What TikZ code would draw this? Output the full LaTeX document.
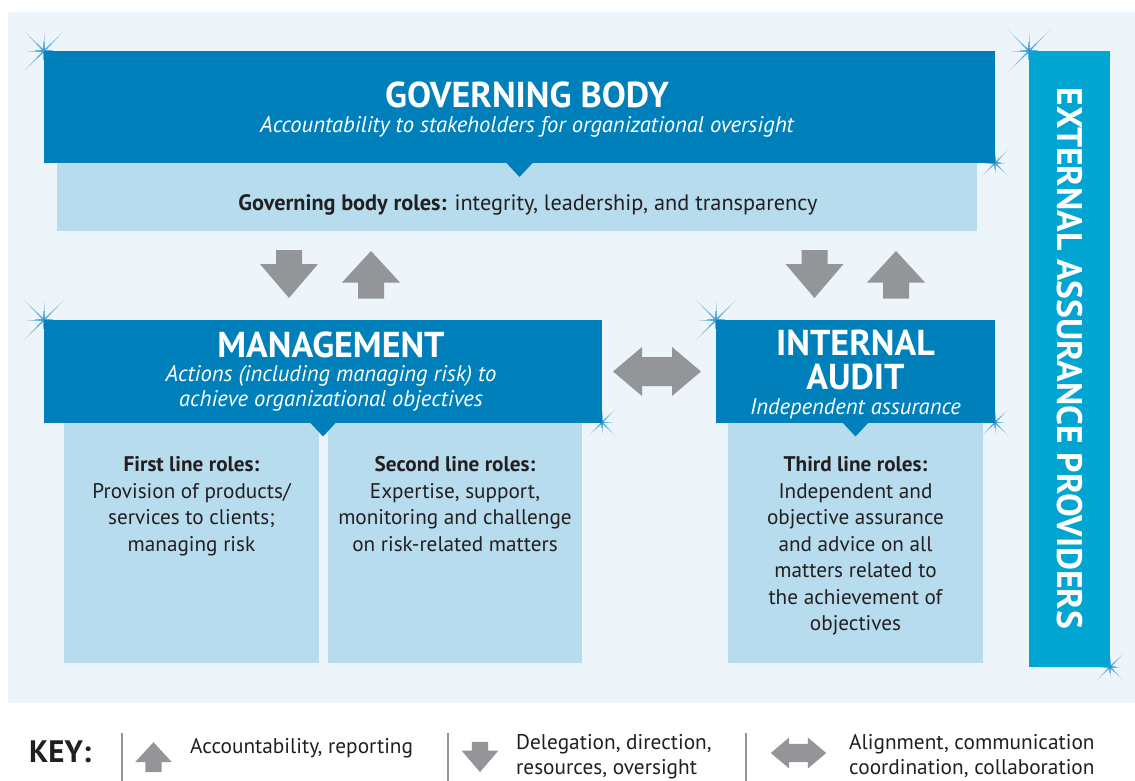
\documentclass[tikz,border=0pt]{standalone}
\usepackage{fontspec}
\setmainfont{PT Sans}
\definecolor{govblue}{HTML}{0080BA}
\definecolor{extblue}{HTML}{00A6D1}
\definecolor{lightbox}{HTML}{B7DCED}
\definecolor{bgblue}{HTML}{EDF5FB}
\definecolor{arrowgray}{HTML}{939598}
\definecolor{textdark}{HTML}{231F20}
\definecolor{sparkblue}{HTML}{3A9AD0}
\tikzset{
  panel/.style={rectangle, inner sep=0, outer sep=0, anchor=north west},
  head/.style={font=\bfseries\fontsize{36}{34}\selectfont, text=white, inner sep=0, align=center},
  sub/.style={font=\itshape\fontsize{22.6}{25}\selectfont, text=white, inner sep=0, align=center},
  body/.style={font=\fontsize{21.2}{26.5}\selectfont, text=textdark, inner sep=0, align=center},
  keytext/.style={font=\fontsize{21.3}{25}\selectfont, text=textdark, inner sep=0, align=left, anchor=north west},
  % star-shaped glint at box corners, rays fading outwards
  sparkle/.pic={
    \foreach \ang/\len in {45/30,135/30,225/30,315/30,0/18,90/18,180/18,270/18}{
      \foreach \i in {0,...,5}{
        \pgfmathsetmacro\ra{\len*\i/6}
        \pgfmathsetmacro\rb{\len*(\i+1)/6}
        \pgfmathsetmacro\op{0.95-\i/6.5}
        \pgfmathsetmacro\lw{1.4-\i*0.18}
        \draw[sparkblue, line width=\lw pt, draw opacity=\op] (\ang:\ra) -- (\ang:\rb);
      }
    }
  },
  downblk/.pic={\fill[arrowgray] (-13,-24) -- (13,-24) -- (13,-10) -- (29,-10) -- (0,24) -- (-29,-10) -- (-13,-10) -- cycle;},
  upblk/.pic={\fill[arrowgray] (-13,24) -- (13,24) -- (13,8) -- (29,8) -- (0,-23.5) -- (-29,8) -- (-13,8) -- cycle;},
  dblblk/.pic={\fill[arrowgray] (-44,0) -- (-15,-24.5) -- (-15,-14.5) -- (15,-14.5) -- (15,-24.5) -- (44,0) -- (15,24.5) -- (15,14.5) -- (-15,14.5) -- (-15,24.5) -- cycle;},
}
\begin{document}
\begin{tikzpicture}[x=1pt,y=-1pt]
\useasboundingbox (0,0) rectangle (1135,781);
\fill[white] (0,0) rectangle (1135,781);
\fill[bgblue] (8,12) rectangle (1135,703);

% glints behind the panels
\pic at (44,51) {sparkle};
\pic[scale=0.62] at (995,163) {sparkle};
\pic at (1029,51) {sparkle};
\pic[scale=0.62] at (1110,667) {sparkle};
\pic at (44,320) {sparkle};
\pic[scale=0.62] at (602,422.5) {sparkle};
\pic at (716,320) {sparkle};
\pic[scale=0.62] at (995,422.5) {sparkle};

% panels
\node[panel, fill=lightbox, minimum width=920, minimum height=68] (gbroles) at (57,163) {};
\node[panel, fill=govblue, minimum width=951, minimum height=112] (gb) at (44,51) {};
\node[panel, fill=lightbox, minimum width=255, minimum height=240] (first) at (64,422.5) {};
\node[panel, fill=lightbox, minimum width=254.5, minimum height=240] (second) at (327.5,422.5) {};
\node[panel, fill=lightbox, minimum width=255, minimum height=240] (third) at (728,422.5) {};
\node[panel, fill=govblue, minimum width=558, minimum height=102.5] (mgmt) at (44,320) {};
\node[panel, fill=govblue, minimum width=279, minimum height=102.5] (ia) at (716,320) {};
\node[panel, fill=extblue, minimum width=81, minimum height=616] (ext) at (1029,51) {};

% pointers under the dark panels
\foreach \n in {gb,mgmt,ia}{
  \fill[govblue] ([xshift=-14pt,yshift=1pt]\n.south) -- ([xshift=14pt,yshift=1pt]\n.south) -- ([yshift=-14pt]\n.south) -- cycle;
}

% texts
\node[head, anchor=base] (gbt) at (527,108) {GOVERNING BODY};
\node[sub, anchor=base] (gbs) at (527,132) {Accountability to stakeholders for organizational oversight};
\node[body, anchor=base, font=\fontsize{22.3}{26.5}\selectfont] (gbr) at (528,210) {\textbf{Governing body roles:} integrity, leadership, and transparency};

\node[head, anchor=base] (mgt) at (331,357) {MANAGEMENT};
\node[sub, anchor=north] (mgs) at (331,365) {Actions (including managing risk) to\\achieve organizational objectives};

\node[head, anchor=north] (iat) at (855.5,330) {INTERNAL\\AUDIT};
\node[sub, anchor=base] (ias) at (855.5,414) {Independent assurance};

\node[body, anchor=north] (firstt) at (191.5,456.5) {\textbf{First line roles:}\\Provision of products/\\services to clients;\\managing risk};
\node[body, anchor=north] (secondt) at (455,456.5) {\textbf{Second line roles:}\\Expertise, support,\\monitoring and challenge\\on risk-related matters};
\node[body, anchor=north] (thirdt) at (855.5,456.5) {\textbf{Third line roles:}\\Independent and\\objective assurance\\and advice on all\\matters related to\\the achievement of\\objectives};

\node[head, rotate=-90, font=\bfseries\fontsize{35.5}{34}\selectfont] (extt) at (1069.5,358.5) {EXTERNAL ASSURANCE PROVIDERS};

% flows between governing body, management and internal audit
\pic at (289,274) {downblk};
\pic at (371,274.5) {upblk};
\pic at (814.5,274) {downblk};
\pic at (896,274.5) {upblk};
\pic at (657,371.5) {dblblk};

% key
\node[font=\bfseries\fontsize{31}{32}\selectfont, text=textdark, inner sep=0, anchor=base west] (key) at (29,762) {KEY:};
\draw[arrowgray, line width=1.8pt] (122,733) -- (122,781);
\draw[arrowgray, line width=1.8pt] (448,733) -- (448,781);
\draw[arrowgray, line width=1.8pt] (746,733) -- (746,781);
\pic[scale=0.63] at (153.5,757) {upblk};
\pic[scale=0.63] at (480,757) {downblk};
\pic[scale=0.63] at (798.5,753) {dblblk};
\node[keytext, anchor=base west] (k1) at (190,753) {Accountability, reporting};
\node[keytext, anchor=north west] (k2) at (516,734) {Delegation, direction,\\resources, oversight};
\node[keytext, anchor=north west] (k3) at (849,734) {Alignment, communication\\coordination, collaboration};
\end{tikzpicture}
\end{document}
